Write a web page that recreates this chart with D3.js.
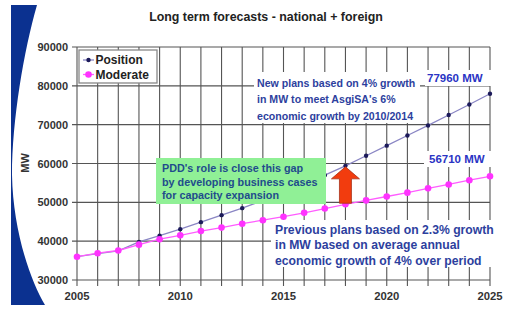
<!DOCTYPE html>
<html>
<head>
<meta charset="utf-8">
<script src="https://cdn.jsdelivr.net/npm/d3@7"></script>
<style>
  body { margin: 0; background: #fff; }
  svg { display: block; font-family: "Liberation Sans", Arial, sans-serif; }
</style>
</head>
<body>
<svg id="chart" width="527" height="312"></svg>
<script>
// values
var years = [2005, 2006, 2007, 2008, 2009, 2010, 2011, 2012, 2013, 2014, 2015,
             2016, 2017, 2018, 2019, 2020, 2021, 2022, 2023, 2024, 2025];
var position = [36000, 36800, 37500, 39800, 41400, 43100, 44900, 46700, 48500, 50500, 52500,
                54700, 57000, 59400, 62000, 64600, 67200, 69800, 72500, 75200, 77960];
var moderate = [36000, 36900, 37600, 39100, 40500, 41500, 42600, 43500, 44500, 45400, 46300,
                47300, 48400, 49500, 50500, 51500, 52500, 53600, 54600, 55700, 56710];
var yTicks = [30000, 40000, 50000, 60000, 70000, 80000, 90000];
var xTicks = [2005, 2010, 2015, 2020, 2025];
var seriesNames = ["Position", "Moderate"];
var gapYear = 2018;

var svg = d3.select("#chart");

// blue slide decoration on the left
svg.append("path")
    .attr("d", "M11,5 L37,5 C24,50 12,120 12,175 C13,230 30,280 45,305 L11,305 Z")
    .attr("fill", "#0b3190");

var x = d3.scaleLinear().domain([2005, 2025]).range([77, 490]);
var y = d3.scaleLinear().domain([30000, 90000]).range([280, 47]);

// grid
var grid = svg.append("g");
grid.selectAll("line.h").data(yTicks).enter().append("line")
    .attr("x1", x(2005) - 5).attr("x2", x(2025))
    .attr("y1", function (d) { return y(d); }).attr("y2", function (d) { return y(d); })
    .attr("stroke", "#555").attr("stroke-width", 1.1);
grid.selectAll("line.v").data(years).enter().append("line")
    .attr("x1", function (d) { return x(d); }).attr("x2", function (d) { return x(d); })
    .attr("y1", y(90000)).attr("y2", y(30000) + 6)
    .attr("stroke", "#555").attr("stroke-width", 1.1);

// axis labels
svg.append("g").selectAll("text").data(yTicks).enter().append("text")
    .attr("x", 68).attr("y", function (d) { return y(d) + 4; })
    .attr("text-anchor", "end")
    .style("font-size", "11px").style("font-weight", "bold").attr("fill", "#333")
    .text(function (d) { return d; });
svg.append("g").selectAll("text").data(xTicks).enter().append("text")
    .attr("x", function (d) { return x(d); }).attr("y", 300)
    .attr("text-anchor", "middle")
    .style("font-size", "11.3px").style("font-weight", "bold").attr("fill", "#333")
    .text(function (d) { return d; });
svg.append("text")
    .attr("transform", "translate(29,163) rotate(-90)")
    .attr("text-anchor", "middle")
    .style("font-size", "11px").style("font-weight", "bold").attr("fill", "#333")
    .text("MW");

svg.append("text")
    .attr("x", 266).attr("y", 21).attr("text-anchor", "middle")
    .style("font-size", "12.4px").style("font-weight", "bold").attr("fill", "#222")
    .text("Long term forecasts - national + foreign");

// series
var line = d3.line()
    .x(function (d, i) { return x(years[i]); })
    .y(function (d) { return y(d); });

svg.append("path").datum(position)
    .attr("d", line).attr("fill", "none")
    .attr("stroke", "#8a86c4").attr("stroke-width", 1.3);
svg.append("g").selectAll("circle").data(position).enter().append("circle")
    .attr("cx", function (d, i) { return x(years[i]); })
    .attr("cy", function (d) { return y(d); })
    .attr("r", 2.2).attr("fill", "#1c1a5a");

svg.append("path").datum(moderate)
    .attr("d", line).attr("fill", "none")
    .attr("stroke", "#ff5cff").attr("stroke-width", 1.3);
svg.append("g").selectAll("circle").data(moderate).enter().append("circle")
    .attr("cx", function (d, i) { return x(years[i]); })
    .attr("cy", function (d) { return y(d); })
    .attr("r", 3.3).attr("fill", "#ff33ff");

// white backgrounds behind the notes
function box(x0, y0, w, h, fill) {
    svg.append("rect").attr("x", x0).attr("y", y0).attr("width", w).attr("height", h)
        .attr("fill", fill);
}
box(254, 72, 166, 51, "#fff");
box(425, 70, 67, 16, "#fff");
box(424, 151, 72, 16, "#fff");
box(271, 220, 223, 47, "#fff");
box(156, 158, 170, 46, "#90f096");

function note(lines, x0, y0, dy, color, size) {
    var t = svg.append("text").attr("fill", color)
        .style("font-size", size + "px").style("font-weight", "bold");
    lines.forEach(function (s, i) {
        t.append("tspan").attr("x", x0).attr("y", y0 + i * dy).text(s);
    });
}
note(["New plans based on 4% growth", "in MW to meet AsgiSA's 6%", "economic growth by 2010/2014"],
     257, 87, 16.3, "#2d3f9e", 10.6);
note(["77960 MW"], 427, 82, 0, "#2a34c4", 11.5);
note(["56710 MW"], 429, 163, 0, "#2a34c4", 11.5);
note(["Previous plans based on 2.3% growth", "in MW based on average annual", "economic growth of 4% over period"],
     275, 234, 15.3, "#2d3f9e", 12.2);
note(["PDD's role is close this gap", "by developing business cases", "for capacity expansion"],
     162, 172, 13.5, "#1f4c8c", 10.8);

// red arrow closing the gap at gapYear
var gi = years.indexOf(gapYear);
var ax = x(gapYear), aTop = y(position[gi]) + 1, aBot = y(moderate[gi]) - 1;
svg.append("path")
    .attr("d", "M" + ax + "," + aTop +
               " L" + (ax + 14) + "," + (aTop + 12) +
               " L" + (ax + 6) + "," + (aTop + 12) +
               " L" + (ax + 6) + "," + aBot +
               " L" + (ax - 6) + "," + aBot +
               " L" + (ax - 6) + "," + (aTop + 12) +
               " L" + (ax - 14) + "," + (aTop + 12) + " Z")
    .attr("fill", "#f23c0e").attr("stroke", "#a8321a").attr("stroke-width", 0.8);

// legend
var lg = svg.append("g");
lg.append("rect").attr("x", 79).attr("y", 50).attr("width", 78).attr("height", 33)
    .attr("fill", "#fff").attr("stroke", "#888").attr("stroke-width", 1.3);
var legendColors = [["#8a86c4", "#1c1a5a", 2.2], ["#ff5cff", "#ff33ff", 3.3]];
seriesNames.forEach(function (name, i) {
    var ly = 60 + i * 14.5;
    lg.append("line").attr("x1", 83).attr("x2", 94).attr("y1", ly).attr("y2", ly)
        .attr("stroke", legendColors[i][0]).attr("stroke-width", 1.3);
    lg.append("circle").attr("cx", 88.5).attr("cy", ly).attr("r", legendColors[i][2])
        .attr("fill", legendColors[i][1]);
    lg.append("text").attr("x", 95.5).attr("y", ly + 4.3)
        .style("font-size", "12px").style("font-weight", "bold").attr("fill", "#222")
        .text(name);
});
</script>
</body>
</html>
